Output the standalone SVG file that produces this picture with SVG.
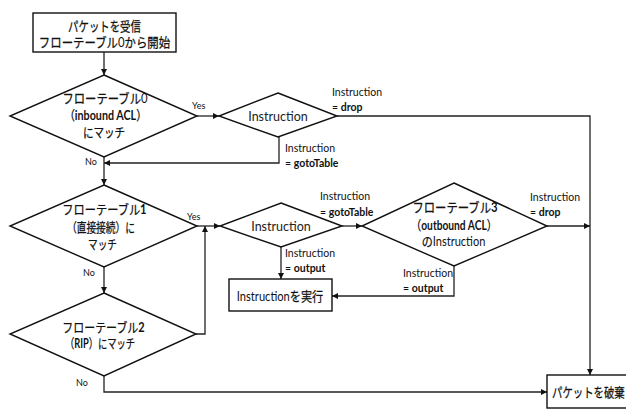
<svg xmlns="http://www.w3.org/2000/svg" width="626" height="410" viewBox="0 0 626 410">
  <style>
    text { font-family: "Lato", "Noto Sans CJK JP", sans-serif; fill: #111; }
    .box { fill: #fff; stroke: #111; stroke-width: 1.4; }
    .dia { fill: #fff; stroke: #111; stroke-width: 1.4; }
    .main { font-size: 13px; text-anchor: middle; stroke: #111; stroke-width: 0.25; }
    .left { text-anchor: start; }
    .b { font-weight: bold; stroke: none; }
    .ns { stroke: none; }
    .word { font-size: 12.5px; text-anchor: middle; fill: #222; }
    .lbl { font-size: 10.5px; }
    .yn { font-size: 9px; }
    .link { fill: none; stroke: #222; stroke-width: 1.3; }
    .arr { marker-end: url(#head); }
  </style>
  <defs>
    <marker id="head" viewBox="0 0 6 6" refX="6" refY="3" markerWidth="6" markerHeight="6" markerUnits="userSpaceOnUse" orient="auto">
      <path d="M0,0 L6,3 L0,6 Z" fill="#111"/>
    </marker>
  </defs>
  <rect width="626" height="410" fill="#fff"/>

  <g id="connectors">
    <path class="link arr" d="M104,52 V75"/>
    <path class="link arr" d="M197,116 H219"/>
    <path class="link arr" d="M337,116 H590 V375"/>
    <path class="link arr" d="M279,137 V163 H104"/>
    <path class="link arr" d="M104,157 V185"/>
    <path class="link arr" d="M197,226 H220"/>
    <path class="link arr" d="M342,226 H362"/>
    <path class="link arr" d="M281,247 V279"/>
    <path class="link arr" d="M454,266 V296 H332"/>
    <path class="link arr" d="M547,226 H590"/>
    <path class="link arr" d="M104,267 V293"/>
    <path class="link arr" d="M196,334 H205 V226"/>
    <path class="link arr" d="M104,376 V392 H547"/>

    <text class="yn" x="192" y="109">Yes</text>
    <text class="yn" x="85" y="165">No</text>
    <text class="yn" x="187" y="220">Yes</text>
    <text class="yn" x="83" y="276">No</text>
    <text class="yn" x="76" y="386">No</text>

    <text class="lbl" x="332" y="96">Instruction</text>
    <text class="lbl" x="332" y="111">= <tspan class="b">drop</tspan></text>
    <text class="lbl" x="285" y="152">Instruction</text>
    <text class="lbl" x="285" y="167">= <tspan class="b">gotoTable</tspan></text>
    <text class="lbl" x="320" y="200">Instruction</text>
    <text class="lbl" x="320" y="216">= <tspan class="b">gotoTable</tspan></text>
    <text class="lbl" x="285" y="257">Instruction</text>
    <text class="lbl" x="285" y="272">= <tspan class="b">output</tspan></text>
    <text class="lbl" x="403" y="277">Instruction</text>
    <text class="lbl" x="403" y="292">= <tspan class="b">output</tspan></text>
    <text class="lbl" x="530" y="201">Instruction</text>
    <text class="lbl" x="530" y="216">= <tspan class="b">drop</tspan></text>
  </g>

  <g id="start">
    <rect class="box" x="33" y="13" width="143" height="39"/>
    <text class="main" transform="translate(104.5,31) scale(0.8,1)">パケットを受信</text>
    <text class="main" transform="translate(104.5,47) scale(0.877,1)">フローテーブル<tspan class="ns">0</tspan>から開始</text>
  </g>

  <g id="table0">
    <polygon class="dia" points="104,75 197,116 104,157 10,116"/>
    <text class="main" transform="translate(105,103) scale(0.873,1)">フローテーブル<tspan class="ns">0</tspan></text>
    <text class="main" transform="translate(105.5,120) scale(0.825,1)">（<tspan class="b">inbound ACL</tspan>）</text>
    <text class="main" transform="translate(104,137) scale(0.81,1)">にマッチ</text>
  </g>

  <g id="instruction0">
    <polygon class="dia" points="278,93 337,116 278,137 219,116"/>
    <text class="word" x="278" y="121">Instruction</text>
  </g>

  <g id="table1">
    <polygon class="dia" points="104,185 197,226 104,267 10,226"/>
    <text class="main" transform="translate(104.5,214) scale(0.863,1)">フローテーブル<tspan class="b">1</tspan></text>
    <text class="main" transform="translate(101,232) scale(0.75,1)">（直接接続）に</text>
    <text class="main" transform="translate(102.5,249) scale(0.74,1)">マッチ</text>
  </g>

  <g id="instruction1">
    <polygon class="dia" points="281,203 342,226 281,247 220,226"/>
    <text class="word" x="281" y="231">Instruction</text>
  </g>

  <g id="table3">
    <polygon class="dia" points="454,183 547,226 454,266 362,226"/>
    <text class="main" transform="translate(455,212) scale(0.873,1)">フローテーブル<tspan class="b">3</tspan></text>
    <text class="main" transform="translate(454,230) scale(0.786,1)">（<tspan class="b">outbound ACL</tspan>）</text>
    <text class="main" transform="translate(453.5,246) scale(0.85,1)">の<tspan class="ns">Instruction</tspan></text>
  </g>

  <g id="execute">
    <rect class="box" x="229" y="279" width="103" height="32"/>
    <text class="main" transform="translate(280,301) scale(0.857,1)"><tspan class="ns">Instruction</tspan>を実行</text>
  </g>

  <g id="table2">
    <polygon class="dia" points="104,293 196,334 104,376 10,334"/>
    <text class="main" transform="translate(103.5,332) scale(0.843,1)">フローテーブル<tspan class="b">2</tspan></text>
    <text class="main" transform="translate(100,348) scale(0.715,1)">（<tspan class="b">RIP</tspan>）にマッチ</text>
  </g>

  <g id="discard">
    <rect class="box" x="547" y="375" width="85" height="33"/>
    <text class="main left" transform="translate(552,397) scale(0.8,1)">パケットを破棄</text>
  </g>
</svg>
